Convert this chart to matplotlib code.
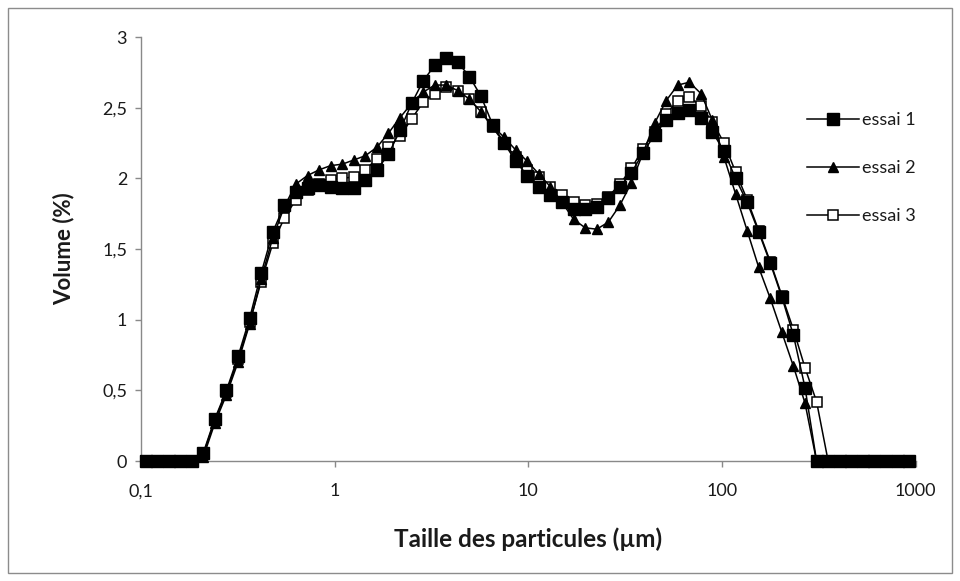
import matplotlib
matplotlib.use("Agg")
import matplotlib.pyplot as plt
from matplotlib.patches import Rectangle

plt.rcParams['font.family'] = ['Lato', 'DejaVu Sans']

# particle sizes (µm)
sizes = [0.1056, 0.1212, 0.1390, 0.1595, 0.1830,
         0.2100, 0.2409, 0.2764, 0.3172, 0.3640, 0.4177, 0.4793, 0.5500, 0.6313, 0.7243,
         0.8311, 0.9538, 1.0945, 1.2560, 1.4411, 1.6537, 1.8976, 2.1775, 2.4987, 2.8672,
         3.2902, 3.7755, 4.3325, 4.9716, 5.7049, 6.5465, 7.5122, 8.6203, 9.8920, 11.351,
         13.026, 14.947, 17.152, 19.682, 22.586, 25.917, 29.740, 34.128, 39.162, 44.939,
         51.568, 59.175, 67.904, 77.920, 89.414, 102.55, 117.71, 135.07, 154.99, 177.85,
         204.09, 234.19, 268.74, 308.38, 353.87, 406.07, 465.97, 534.70, 613.58, 704.08,
         807.95, 927.10]

essai1 = [0, 0, 0, 0, 0,
          0.06, 0.30, 0.50, 0.74, 1.01, 1.33, 1.62, 1.81, 1.90, 1.93,
          1.95, 1.94, 1.93, 1.93, 1.99, 2.06, 2.17, 2.34, 2.53, 2.69,
          2.80, 2.85, 2.82, 2.72, 2.58, 2.38, 2.25, 2.12, 2.02, 1.94,
          1.88, 1.83, 1.78, 1.78, 1.80, 1.86, 1.94, 2.04, 2.18, 2.31,
          2.41, 2.46, 2.48, 2.43, 2.33, 2.19, 2.00, 1.83, 1.62, 1.40,
          1.16, 0.89, 0.52, 0, 0, 0, 0, 0, 0, 0,
          0, 0]

essai2 = [0, 0, 0, 0, 0,
          0.03, 0.27, 0.47, 0.70, 0.97, 1.29, 1.58, 1.80, 1.96, 2.02,
          2.06, 2.09, 2.10, 2.13, 2.16, 2.22, 2.32, 2.43, 2.53, 2.61,
          2.66, 2.66, 2.62, 2.56, 2.47, 2.37, 2.29, 2.20, 2.12, 2.03,
          1.94, 1.83, 1.71, 1.65, 1.64, 1.69, 1.81, 1.97, 2.18, 2.39,
          2.55, 2.66, 2.68, 2.60, 2.41, 2.15, 1.89, 1.63, 1.37, 1.15,
          0.91, 0.67, 0.41, 0, 0, 0, 0, 0, 0, 0,
          0, 0]

essai3 = [0, 0, 0, 0, 0,
          0.05, 0.29, 0.49, 0.72, 0.98, 1.27, 1.54, 1.72, 1.85, 1.92,
          1.96, 1.99, 2.00, 2.01, 2.06, 2.14, 2.22, 2.30, 2.42, 2.54,
          2.60, 2.645, 2.62, 2.56, 2.47, 2.36, 2.25, 2.15, 2.06, 2.01,
          1.94, 1.88, 1.83, 1.81, 1.82, 1.87, 1.96, 2.07, 2.21, 2.33,
          2.455, 2.55, 2.575, 2.51, 2.40, 2.25, 2.045, 1.85, 1.63, 1.41,
          1.17, 0.93, 0.66, 0.42, 0, 0, 0, 0, 0, 0,
          0, 0]

series_names = ["essai 1", "essai 2", "essai 3"]
xtick_vals = [0.1, 1, 10, 100, 1000]
xtick_labels = ["0,1", "1", "10", "100", "1000"]
ytick_vals = [0, 0.5, 1, 1.5, 2, 2.5, 3]
ytick_labels = ["0", "0,5", "1", "1,5", "2", "2,5", "3"]

fig = plt.figure(figsize=(9.6, 5.81), dpi=100)
fig.patches.append(Rectangle((8/960, 8/581), 944/960, 565/581, transform=fig.transFigure,
                             fill=False, edgecolor='#8c8c8c', linewidth=1.0))

ax = fig.add_axes([141/960, 1 - 461/581, (915.5 - 141)/960, (461 - 37)/581])

lw = 1.1
ax.plot(sizes, essai1, color='black', lw=lw, marker='s', ms=8.3, mfc='black', mec='black',
        label=series_names[0], clip_on=False, zorder=5)
ax.plot(sizes, essai2, color='black', lw=lw, marker='^', ms=7.5, mfc='black', mec='black',
        label=series_names[1], clip_on=False, zorder=4)
ax.plot(sizes, essai3, color='black', lw=lw, marker='s', ms=6.8, mfc='white', mec='black',
        mew=1.1, label=series_names[2], clip_on=False, zorder=3)

ax.set_xscale('log')
ax.set_xlim(0.1, 1000)
ax.set_ylim(0, 3)
ax.set_xticks(xtick_vals)
ax.set_xticklabels(xtick_labels)
ax.xaxis.set_minor_locator(matplotlib.ticker.NullLocator())
ax.set_yticks(ytick_vals)
ax.set_yticklabels(ytick_labels)

for s in ['top', 'right']:
    ax.spines[s].set_visible(False)
for s in ['left', 'bottom']:
    ax.spines[s].set_color('#898989')
    ax.spines[s].set_linewidth(1.0)

ax.tick_params(axis='both', which='major', direction='out', length=4, width=1.0,
               color='#898989', labelsize=13, labelcolor='#1a1a1a')
ax.tick_params(axis='x', pad=12)
ax.tick_params(axis='y', pad=6)

ax.set_xlabel("Taille des particules (µm)", fontsize=17.5, fontweight='bold', color='#1a1a1a',
              labelpad=20)
ax.set_ylabel("Volume (%)", fontsize=16, fontweight='bold', color='#1a1a1a', labelpad=20)

leg = ax.legend(loc='upper left', bbox_to_anchor=(807/960, 1 - 112/581),
                bbox_transform=fig.transFigure, frameon=False, fontsize=13,
                handlelength=2.9, handletextpad=0.15, labelspacing=1.78,
                borderpad=0, borderaxespad=0)
for t in leg.get_texts():
    t.set_color('#1a1a1a')

fig.savefig("out.png", dpi=100)
